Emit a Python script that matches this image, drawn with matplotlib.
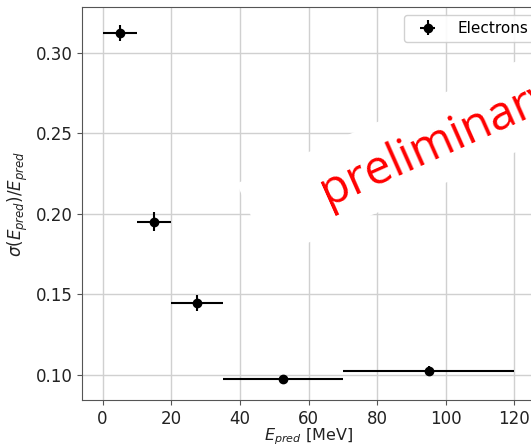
import matplotlib
matplotlib.use("Agg")
import matplotlib.pyplot as plt
from matplotlib.patches import Rectangle
from matplotlib.transforms import IdentityTransform

# bin centres / half-widths [MeV] and relative resolution
E_PRED = [5, 15, 27.5, 52.5, 95]
E_HALF = [5, 5, 7.5, 17.5, 25]
RES = [0.3125, 0.1952, 0.1446, 0.0973, 0.1025]
RES_ERR = [0.005, 0.006, 0.005, 0.002, 0.003]

W, H, DPI = 531, 447, 100

fig = plt.figure(figsize=(W / DPI, H / DPI), dpi=DPI)
# axes run past the right edge: the reference is a cropped screenshot
ax = fig.add_axes([82 / W, 1 - 400 / H, (535 - 82) / W, (400 - 7) / H])

ax.errorbar(E_PRED, RES, xerr=E_HALF, yerr=RES_ERR, fmt="o", color="black",
            ms=6, lw=1.5, capsize=0, label="Electrons", zorder=3)

ax.set_xlim(-6, 126)
ax.set_ylim(0.0842, 0.3286)
ax.set_xticks([0, 20, 40, 60, 80, 100, 120])
ax.set_yticks([0.10, 0.15, 0.20, 0.25, 0.30])
ax.set_yticklabels(["0.10", "0.15", "0.20", "0.25", "0.30"])
ax.tick_params(labelsize=12, color="#555555", labelcolor="#222222")
ax.grid(True, color="#d0d0d0", lw=1)
ax.set_axisbelow(True)
for s in ax.spines.values():
    s.set_color("#555555")

ax.set_xlabel(r"$E_{pred}$ [MeV]", fontsize=11.5, color="#222222", labelpad=-1)
ax.set_ylabel(r"$\sigma(E_{pred})/E_{pred}$", fontsize=12, color="#222222")

ax.legend(loc="upper left", bbox_to_anchor=(404 / W, 1 - 15 / H),
          bbox_transform=fig.transFigure, borderaxespad=0, fontsize=11,
          handlelength=2.3, handletextpad=0.8, borderpad=0.4, framealpha=0.9)

# white band behind the watermark (pixel coords, y up)
ang = 24
fig.add_artist(Rectangle((270, 187.5), 420, 83, angle=23.6, rotation_point="xy",
                         facecolor="white", edgecolor="none",
                         transform=IdentityTransform(), zorder=4))
fig.text(328 / W, 1 - 206 / H, "preliminary", color="#ff0000", fontsize=34,
         family=["Open Sans", "DejaVu Sans"], rotation=ang,
         rotation_mode="anchor", ha="left", va="baseline", zorder=5)

fig.savefig("out.png", dpi=DPI)
